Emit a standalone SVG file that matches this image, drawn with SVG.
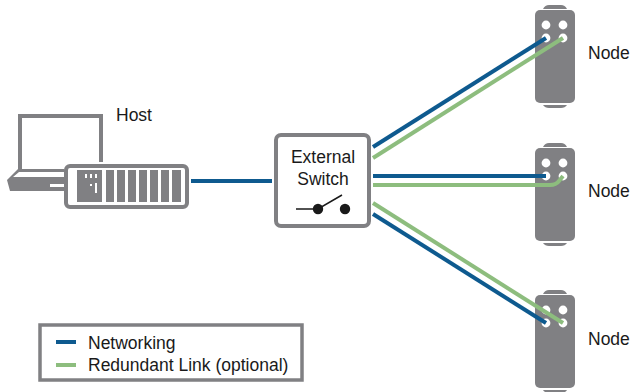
<svg xmlns="http://www.w3.org/2000/svg" width="632" height="392" viewBox="0 0 632 392">
<style>
text{font-family:"Liberation Sans",Arial,sans-serif;font-size:17.5px;fill:#1a1a1a}
.g{fill:#808083}.h{fill:#fff}
.n{stroke:#0e5a8f;stroke-width:4;fill:none}
.r{stroke:#8dbd7e;stroke-width:4;fill:none}
</style>
<defs>
<g id="nodeShape">
<path class="g" d="M543 9Q545 5 549 5H561Q565 5 567 9Z"/>
<rect class="g" x="535" y="10" width="40" height="93" rx="5"/>
<path class="g" d="M543 105H567Q565 108 561 108H549Q545 108 543 105Z"/>
<circle class="h" cx="546" cy="25" r="4.4"/><circle class="h" cx="563" cy="25" r="4.4"/>
<circle class="h" cx="546" cy="38" r="4.4"/><circle class="h" cx="563" cy="38" r="4.4"/>
</g>
</defs>
<g id="host">
<path d="M20 170V116H101V162" fill="none" stroke="#808083" stroke-width="4"/>
<path class="g" d="M18 169H64V191H10L7 180Z"/>
<path class="h" d="M19 172H64V177H13ZM50 184H64V187H50Z"/>
<rect x="66" y="166" width="121" height="41" rx="4" fill="#fff" stroke="#808083" stroke-width="4"/>
<rect class="g" x="77" y="170" width="25" height="32"/>
<path class="h" d="M85 174h2v4h-2zM90 174h2v4h-2zM95 174h2v4h-2zM90 184h2v2h-2zM95 183h2v10h-2z"/>
<path class="g" d="M106 170h8v32h-8zM117 170h8v32h-8zM128 170h8v32h-8zM139 170h8v32h-8zM150 170h8v32h-8zM161 170h8v32h-8zM172 170h9v32h-9z"/>
<text x="116" y="121">Host</text>
</g>
<g id="switch">
<rect x="276" y="135" width="93" height="91" rx="5" fill="#fff" stroke="#808083" stroke-width="4"/>
<text x="323" y="163" text-anchor="middle">External</text>
<text x="323" y="185" text-anchor="middle">Switch</text>
<path d="M296 209H318L342 195" fill="none" stroke="#1a1a1a" stroke-width="1.5"/>
<circle cx="318" cy="209" r="5.2" fill="#1a1a1a"/><circle cx="345" cy="209" r="5.2" fill="#1a1a1a"/>
</g>
<g id="node1"><use href="#nodeShape"/><text x="588" y="59">Node</text></g>
<g id="node2"><use href="#nodeShape" y="138"/><text x="588" y="197">Node</text></g>
<g id="node3"><use href="#nodeShape" y="285"/><text x="588" y="345">Node</text></g>
<g id="connectors">
<path class="n" d="M191 181H272"/>
<path class="n" d="M373 147 546 38"/>
<path class="r" d="M373 158 563 38"/>
<path class="n" d="M373 176H546"/>
<path class="r" d="M373 185H550Q556 185 559 181L563 176"/>
<path class="n" d="M373 214 546 323"/>
<path class="r" d="M373 203 563 323"/>
</g>
<g id="legend">
<rect x="40" y="325" width="262" height="55" fill="#fff" stroke="#808083" stroke-width="3.5"/>
<path class="n" d="M56 342H76"/>
<path class="r" d="M56 365H76"/>
<text x="88" y="349">Networking</text>
<text x="88" y="371">Redundant Link (optional)</text>
</g>
</svg>
